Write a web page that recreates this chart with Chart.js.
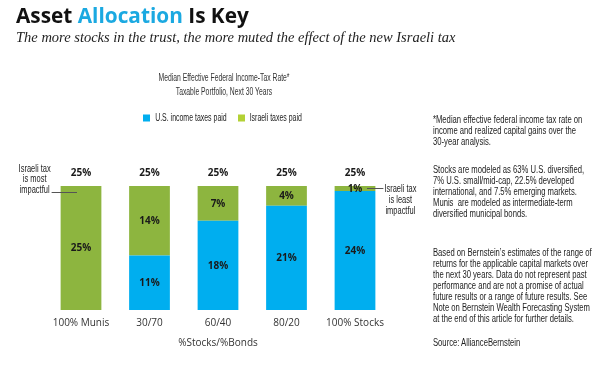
<!DOCTYPE html>
<html><head><meta charset="utf-8">
<script src="https://cdn.jsdelivr.net/npm/chart.js@4.4.1/dist/chart.umd.min.js"></script>
<style>
html,body{margin:0;padding:0;background:#fff;width:595px;height:366px;overflow:hidden}
#wrap{position:absolute;left:0;top:0;width:595px;height:366px}
.t{position:absolute;white-space:nowrap;color:#111}
#h1{left:16px;top:3px;font:bold 20.8px "Open Sans",sans-serif;line-height:24px;color:#111}
#h1 span{color:#1BA9E1}
#h2{left:16px;top:29px;font:italic 14.5px "Liberation Serif",serif;line-height:16px;color:#222}
.note{position:absolute;left:433px;white-space:pre;font:10px "Liberation Sans",sans-serif;line-height:11px;color:#222;transform-origin:0 0}
</style></head>
<body>
<div id="wrap"><canvas id="c" width="595" height="366"></canvas></div>
<div class="t" id="h1">Asset <span>Allocation</span> Is Key</div>
<div class="t" id="h2">The more stocks in the trust, the more muted the effect of the new Israeli tax</div>
<div class="note" style="top:113.5px">*Median effective federal income tax rate on
income and realized capital gains over the
30-year analysis.</div>
<div class="note" style="top:163.5px">Stocks are modeled as 63% U.S. diversified,
7% U.S. small/mid-cap, 22.5% developed
international, and 7.5% emerging markets.
Munis  are modeled as intermediate-term
diversified municipal bonds.</div>
<div class="note" style="top:247px">Based on Bernstein’s estimates of the range of
returns for the applicable capital markets over
the next 30 years. Data do not represent past
performance and are not a promise of actual
future results or a range of future results. See
Note on Bernstein Wealth Forecasting System
at the end of this article for further details.</div>
<div class="note" style="top:337px">Source: AllianceBernstein</div>
<script>
const categories = ['100% Munis', '30/70', '60/40', '80/20', '100% Stocks'];
const usTaxesPaid = [0, 11, 18, 21, 24];
const israeliTaxesPaid = [25, 14, 7, 4, 1];
const totalRate = [25, 25, 25, 25, 25];
const seriesNames = ['U.S. income taxes paid', 'Israeli taxes paid'];
const chartTitle = ['Median Effective Federal Income-Tax Rate*', 'Taxable Portfolio, Next 30 Years'];
const xAxisTitle = '%Stocks/%Bonds';
const leftNote = ['Israeli tax', 'is most', 'impactful'];
const rightNote = ['Israeli tax', 'is least', 'impactful'];

const BLUE = '#00AEEF';
const GREEN = '#8DB53F';
const LEGEND_COLORS = ['#00AEEF', '#B3D135'];
const SANS = '"Liberation Sans",sans-serif';

// horizontal compression factors imitating the condensed face of the original
const mctx = document.createElement('canvas').getContext('2d');
mctx.font = '10px ' + SANS;
const w10 = s => mctx.measureText(s).width;
const NOTE_SX = 155 / w10('returns for the applicable capital markets over');
const TITLE_SX = 131 / w10(chartTitle[0]);
const LEGEND_SX = 71.5 / w10(seriesNames[0]);
const ANNOT_SX = 32 / w10(leftNote[0]);
document.querySelectorAll('.note').forEach(n => n.style.transform = 'scaleX(' + NOTE_SX + ')');

function condText(ctx, text, x, y, sx, align) {
  ctx.save();
  ctx.translate(x, y);
  ctx.scale(sx, 1);
  ctx.textAlign = align || 'center';
  ctx.fillText(text, 0, 0);
  ctx.restore();
}

const labelsPlugin = {
  id: 'labelsPlugin',
  afterDraw(chart) {
    const ctx = chart.ctx;
    const y = chart.scales.y;
    const area = chart.chartArea;
    ctx.save();
    ctx.textBaseline = 'middle';
    // chart title
    const cx = (area.left + area.right) / 2 + 6;
    ctx.fillStyle = '#333';
    ctx.font = '10px ' + SANS;
    chartTitle.forEach((s, k) => condText(ctx, s, cx, 78.5 + k * 14, TITLE_SX));
    // legend
    const box = 7, gap = 5, itemGap = 11;
    const widths = chart.data.datasets.map(ds => ctx.measureText(ds.label).width * LEGEND_SX);
    const total = widths.reduce((a, w) => a + box + gap + w, 0) + itemGap * (widths.length - 1);
    let lx = cx - 1.5 - total / 2;
    const ly = 118;
    chart.data.datasets.forEach((ds, i) => {
      ctx.fillStyle = LEGEND_COLORS[i];
      ctx.fillRect(Math.round(lx), ly - box / 2, box, box);
      ctx.fillStyle = '#222';
      condText(ctx, ds.label, lx + box + gap, ly + 0.5, LEGEND_SX, 'left');
      lx += box + gap + widths[i] + itemGap;
    });
    // value labels
    ctx.textAlign = 'center';
    ctx.fillStyle = '#1a1a1a';
    ctx.font = 'bold 10px "Open Sans",sans-serif';
    chart.data.datasets.forEach((ds, di) => {
      chart.getDatasetMeta(di).data.forEach((bar, i) => {
        const v = ds.data[i];
        if (!v) return;
        ctx.fillText(v + '%', bar.x, (bar.y + bar.base) / 2 + 0.5);
      });
    });
    const top = chart.getDatasetMeta(1).data;
    top.forEach((bar, i) => {
      ctx.fillText(totalRate[i] + '%', bar.x, y.getPixelForValue(totalRate[i]) - 13.3);
    });
    // annotations
    ctx.font = '10px ' + SANS;
    ctx.fillStyle = '#222';
    const b0 = top[0];
    const t0 = y.getPixelForValue(totalRate[0]);
    const l0 = b0.x - b0.width / 2;
    leftNote.forEach((s, k) => condText(ctx, s, l0 - 26, t0 - 17 + k * 10.5, ANNOT_SX));
    ctx.strokeStyle = '#555';
    ctx.lineWidth = 1;
    ctx.beginPath();
    ctx.moveTo(l0 - 9, Math.round(t0 + 6) + 0.5); ctx.lineTo(b0.x - 4, Math.round(t0 + 6) + 0.5); ctx.stroke();
    const b4 = top[top.length - 1];
    const r4 = b4.x + b4.width / 2;
    const m4 = (b4.y + b4.base) / 2;
    ctx.beginPath();
    ctx.moveTo(b4.x + 12, Math.round(m4) + 0.5); ctx.lineTo(r4 + 8, Math.round(m4) + 0.5); ctx.stroke();
    rightNote.forEach((s, k) => condText(ctx, s, r4 + 25, m4 + 1 + k * 11, ANNOT_SX));
    ctx.restore();
  }
};

new Chart(document.getElementById('c'), {
  type: 'bar',
  data: {
    labels: categories,
    datasets: [
      { label: seriesNames[0], data: usTaxesPaid, backgroundColor: BLUE, borderWidth: 0 },
      { label: seriesNames[1], data: israeliTaxesPaid, backgroundColor: GREEN, borderWidth: 0 }
    ]
  },
  options: {
    responsive: false,
    animation: false,
    devicePixelRatio: 1,
    layout: { padding: { left: 46.75, right: 205.75, top: 186, bottom: 16.7 } },
    datasets: { bar: { barPercentage: 0.595, categoryPercentage: 1 } },
    scales: {
      x: {
        stacked: true,
        grid: { display: false, drawTicks: false },
        border: { display: false },
        ticks: { color: '#333', font: { family: '"Open Sans",sans-serif', size: 10 }, padding: 7 },
        title: { display: true, text: xAxisTitle, color: '#333', font: { family: '"Open Sans",sans-serif', size: 10 }, padding: { top: 1.3, bottom: 0 } }
      },
      y: { stacked: true, display: false, min: 0, max: 25 }
    },
    plugins: {
      title: { display: false },
      legend: { display: false },
      tooltip: { enabled: false }
    }
  },
  plugins: [labelsPlugin]
});
</script>
</body></html>
